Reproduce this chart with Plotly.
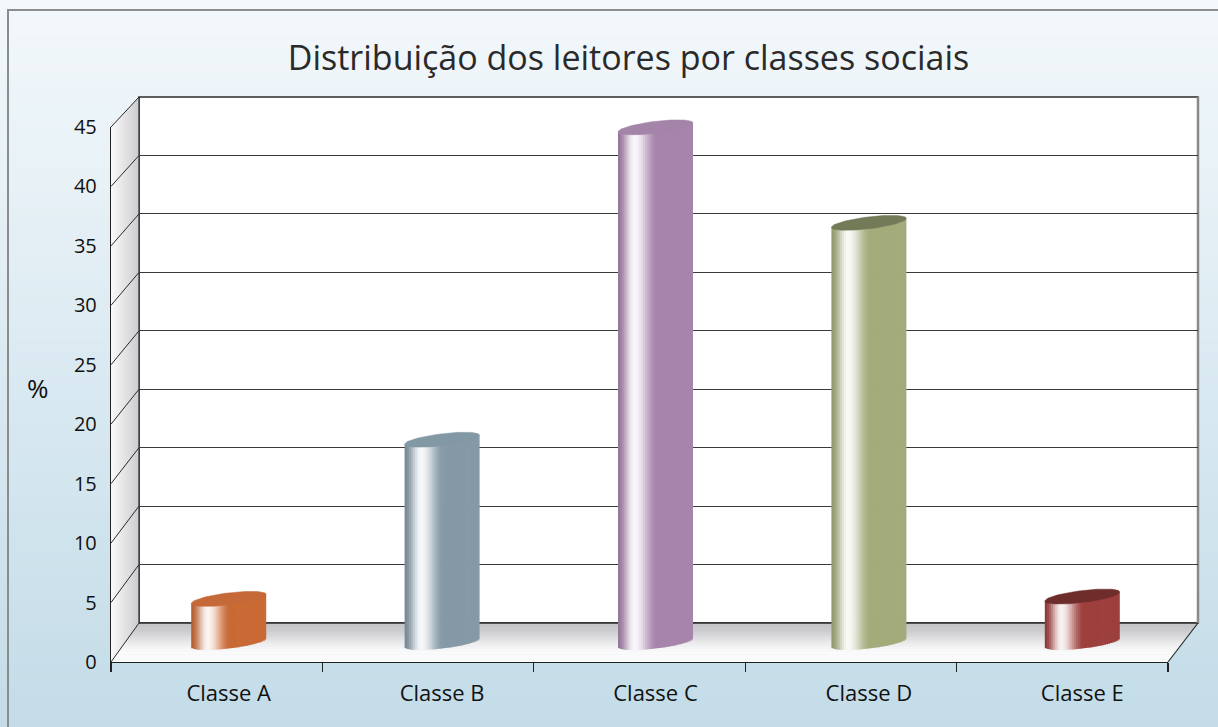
import numpy as np
import plotly.graph_objects as go

# ---------------- data ----------------
categories = ["Classe A", "Classe B", "Classe C", "Classe D", "Classe E"]
values = [3.7, 17.2, 43.7, 35.6, 3.9]
body_colors = ["#c96a35", "#8599a6", "#a684ab", "#a4ab7b", "#9d3f3c"]
top_colors = ["#c66938", "#8398a5", "#a584aa", "#737a57", "#6e2c2b"]
y_ticks = list(range(0, 50, 5))
title_text = "Distribuição dos leitores por classes sociais"
y_title = "%"

# ---------------- geometry (pixels) ----------------
W, H = 1218, 727
FONT = "Open Sans"


def fx(x):
    return x / W


def fy(y):
    return 1 - y / H


# front plane (axis labels), back plane (wall), bar plane (mid depth)
FX0, FX1, FY0, FY45 = 111, 1168, 662, 127
BX0, BX1, BY0, BY45 = 139, 1198, 623, 97
MX0, MX1 = 122, 1189
MY0 = (FY0 + BY0) / 2
MSC = (MY0 - (FY45 + BY45) / 2) / 45.0  # px per unit in bar plane
Y3_RANGE = [-3, 47]


def front_py(v):
    return FY0 + (FY45 - FY0) * v / 45.0


def back_py(v):
    return BY0 + (BY45 - BY0) * v / 45.0


def hex2rgb(h):
    h = h.lstrip("#")
    return np.array([int(h[i:i + 2], 16) for i in (0, 2, 4)], dtype=float)


def rgbstr(c):
    c = np.clip(c, 0, 255)
    return "rgb(%d,%d,%d)" % tuple(int(round(v)) for v in c)


def mix(a, b, t):
    return a + (b - a) * t


def smooth(t):
    t = min(max(t, 0.0), 1.0)
    return t * t * (3 - 2 * t)


WHITE = np.array([255.0, 255.0, 255.0])


def shade(hexc, u):
    p = (u + 1) / 2
    main = hex2rgb(hexc)
    dark = main * 0.9
    hi = mix(main, WHITE, 0.93)
    if p < 0.22:
        c = mix(dark, hi, smooth(p / 0.22))
    elif p < 0.52:
        c = mix(hi, main, smooth((p - 0.22) / 0.30))
    else:
        c = main
    return rgbstr(c)


shapes = []

# background gradient
NB = 60
top_bg = np.array([243.0, 248.0, 251.0])
bot_bg = np.array([195.0, 220.0, 232.0])
for j in range(NB):
    y0 = H * j / NB
    y1 = H * (j + 1) / NB + 1
    t = (j + 0.5) / NB
    shapes.append(dict(type="rect", xref="paper", yref="paper", x0=0, x1=1,
                       y0=fy(y1), y1=fy(y0), fillcolor=rgbstr(mix(top_bg, bot_bg, t)),
                       line=dict(width=0), layer="below"))

# outer frame
shapes.append(dict(type="rect", xref="paper", yref="paper", x0=fx(8), x1=fx(1240),
                   y0=fy(760), y1=fy(10), line=dict(color="#8c8c8c", width=2),
                   fillcolor="rgba(0,0,0,0)", layer="below"))

# back wall
shapes.append(dict(type="rect", xref="paper", yref="paper", x0=fx(BX0), x1=fx(BX1),
                   y0=fy(BY0), y1=fy(BY45), fillcolor="white",
                   line=dict(color="#2a2a2a", width=1.5), layer="below"))

# left wall (gradient strips)
NL = 28
wl_a = np.array([250.0, 250.0, 250.0])
wl_b = np.array([204.0, 204.0, 208.0])
for j in range(NL):
    s0 = j / NL
    s1 = min(1.0, (j + 1.3) / NL)
    xa, xb = FX0 + (BX0 - FX0) * s0, FX0 + (BX0 - FX0) * s1
    ta, tb = FY45 + (BY45 - FY45) * s0, FY45 + (BY45 - FY45) * s1
    ba, bb = FY0 + (BY0 - FY0) * s0, FY0 + (BY0 - FY0) * s1
    path = "M %f %f L %f %f L %f %f L %f %f Z" % (
        fx(xa), fy(ta), fx(xb), fy(tb), fx(xb), fy(bb), fx(xa), fy(ba))
    shapes.append(dict(type="path", xref="paper", yref="paper", path=path,
                       fillcolor=rgbstr(mix(wl_a, wl_b, (j + 0.5) / NL)),
                       line=dict(width=0), layer="below"))

# floor (gradient strips, back -> front)
NF = 30
fl_a = np.array([196.0, 196.0, 199.0])
fl_b = np.array([251.0, 251.0, 251.0])
for j in range(NF):
    r0 = j / NF
    r1 = min(1.0, (j + 1.3) / NF)
    ya, yb = BY0 + (FY0 - BY0) * r0, BY0 + (FY0 - BY0) * r1
    la, lb = BX0 + (FX0 - BX0) * r0, BX0 + (FX0 - BX0) * r1
    ra, rb = BX1 + (FX1 - BX1) * r0, BX1 + (FX1 - BX1) * r1
    path = "M %f %f L %f %f L %f %f L %f %f Z" % (
        fx(la), fy(ya), fx(ra), fy(ya), fx(rb), fy(yb), fx(lb), fy(yb))
    shapes.append(dict(type="path", xref="paper", yref="paper", path=path,
                       fillcolor=rgbstr(mix(fl_a, fl_b, smooth(((j + 0.5) / NF) / 0.8))),
                       line=dict(width=0), layer="below"))

# floor back edge, wall edges
shapes.append(dict(type="line", xref="paper", yref="paper", x0=fx(BX0), x1=fx(BX1),
                   y0=fy(BY0), y1=fy(BY0), line=dict(color="#2a2a2a", width=1.5), layer="below"))
shapes.append(dict(type="line", xref="paper", yref="paper", x0=fx(BX1), x1=fx(BX1),
                   y0=fy(BY0), y1=fy(BY45), line=dict(color="#8a8a8a", width=2.5), layer="below"))
shapes.append(dict(type="line", xref="paper", yref="paper", x0=fx(BX0), x1=fx(BX0),
                   y0=fy(BY0), y1=fy(BY45), line=dict(color="#2a2a2a", width=1.2), layer="below"))
# floor right edge
shapes.append(dict(type="line", xref="paper", yref="paper", x0=fx(FX1), x1=fx(BX1),
                   y0=fy(FY0), y1=fy(BY0), line=dict(color="#2a2a2a", width=1.2), layer="below"))
# diagonals on left wall at each tick
for v in y_ticks:
    shapes.append(dict(type="line", xref="paper", yref="paper", x0=fx(FX0), x1=fx(BX0),
                       y0=fy(front_py(v)), y1=fy(back_py(v)),
                       line=dict(color="#2a2a2a", width=1), layer="below"))

fig = go.Figure()

# ---------------- cylinders ----------------
hw = 75 / ((MX1 - MX0) / 5.0) / 2.0  # half width in category units
TILT = 4.5 / MSC
RY = 6.0 / MSC
N = 36
sw = 2 * hw / N
xs = list(range(len(categories)))
for k in range(N):
    u = -1 + (2 * k + 1) / N
    base = TILT * u - RY * np.sqrt(max(0.0, 1 - u * u))
    tops = [v + TILT * u for v in values]
    fig.add_trace(go.Bar(
        x=xs, y=[t - base for t in tops], base=[base] * len(xs),
        offset=-hw + k * sw, width=sw * (1.35 if k < N - 1 else 1.0),
        marker=dict(color=[shade(c, u) for c in body_colors], line=dict(width=0)),
        xaxis="x3", yaxis="y3", hoverinfo="skip", showlegend=False))

t = np.linspace(0, 2 * np.pi, 80)
for i, v in enumerate(values):
    fig.add_trace(go.Scatter(
        x=i + hw * np.cos(t), y=v + TILT * np.cos(t) + RY * np.sin(t),
        mode="lines", fill="toself", fillcolor=top_colors[i],
        line=dict(width=0.5, color=top_colors[i]),
        xaxis="x3", yaxis="y3", hoverinfo="skip", showlegend=False))

# invisible traces to activate the back and front subplots
fig.add_trace(go.Scatter(x=[0], y=[0], mode="markers", marker=dict(opacity=0),
                         xaxis="x", yaxis="y", hoverinfo="skip", showlegend=False))
fig.add_trace(go.Scatter(x=[0], y=[0], mode="markers", marker=dict(opacity=0),
                         xaxis="x2", yaxis="y2", hoverinfo="skip", showlegend=False))

boundaries = [i - 0.5 for i in range(len(categories) + 1)]

fig.update_layout(
    template="none",
    width=W, height=H, autosize=False,
    margin=dict(l=0, r=0, t=0, b=0, pad=0, autoexpand=False),
    paper_bgcolor="rgb(215,232,240)", plot_bgcolor="rgba(0,0,0,0)",
    barmode="overlay", shapes=shapes,
    font=dict(family=FONT, color="#111111"),
    title=dict(text=title_text, x=fx(628.5), xanchor="center", y=fy(58), yanchor="middle",
               automargin=False,
               font=dict(family=FONT, size=34, color="#2a2a2a")),
    # back wall plane
    xaxis=dict(domain=[fx(BX0), fx(BX1)], range=[-0.5, 4.5], visible=False, anchor="y",
               automargin=False),
    yaxis=dict(domain=[fy(BY0), fy(BY45)], range=[0, 45], tickvals=y_ticks,
               showgrid=True, gridcolor="#3a3a3a", gridwidth=1, zeroline=False,
               showticklabels=False, ticks="", showline=False, anchor="x",
               automargin=False),
    # front plane (axis lines, y labels, x ticks)
    xaxis2=dict(domain=[fx(FX0), fx(FX1)], range=[-0.5, 4.5], anchor="y2",
                showgrid=False, zeroline=False, showline=True, linecolor="#222222",
                linewidth=1.3, ticks="outside", tickvals=boundaries, ticklen=9,
                tickcolor="#222222", tickwidth=1.3, showticklabels=False, automargin=False),
    yaxis2=dict(domain=[fy(FY0), fy(FY45)], range=[0, 45], anchor="x2",
                showgrid=False, zeroline=False, showline=True, linecolor="#222222",
                linewidth=1.2, ticks="", tickvals=y_ticks, ticklabelstandoff=9,
                tickfont=dict(size=20, color="#111111", family=FONT), automargin=False),
    # bar plane (mid depth)
    xaxis3=dict(domain=[fx(MX0), fx(MX1)], range=[-0.5, 4.5], anchor="y3",
                showgrid=False, zeroline=False, showline=False, ticks="",
                tickvals=xs, ticktext=categories, automargin=False,
                tickfont=dict(size=22, color="#111111", family=FONT)),
    yaxis3=dict(domain=[fy(MY0 - Y3_RANGE[0] * MSC), fy(MY0 - Y3_RANGE[1] * MSC)],
                range=Y3_RANGE, anchor="x3", visible=False, automargin=False),
    annotations=[dict(text=y_title, xref="paper", yref="paper", x=fx(38), y=fy(388),
                      showarrow=False, font=dict(size=26, color="#111111", family=FONT),
                      xanchor="center", yanchor="middle")],
)

fig.write_html(
    "out.html",
    config={"displayModeBar": False, "staticPlot": True},
    post_script="document.body.style.margin='0px';document.body.style.overflow='hidden';",
)
